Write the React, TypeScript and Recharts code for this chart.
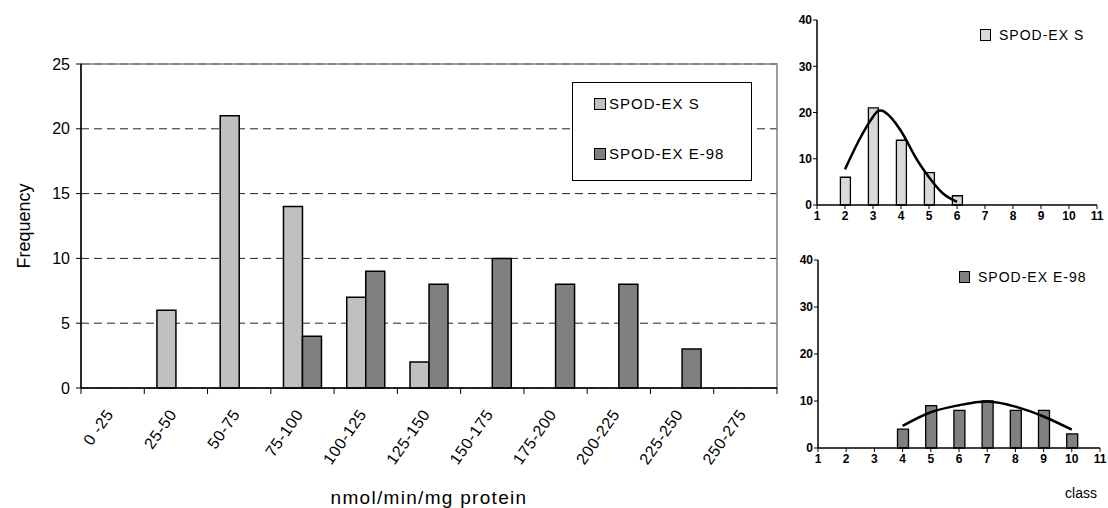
import React from 'react';
import {
  BarChart,
  Bar,
  ComposedChart,
  Line,
  XAxis,
  YAxis,
  CartesianGrid,
  ReferenceArea,
  Legend,
} from 'recharts';

const FONT = 'Arial, "Liberation Sans", sans-serif';

// main histogram
const categories = ['0 -25', '25-50', '50-75', '75-100', '100-125', '125-150', '150-175', '175-200', '200-225', '225-250', '250-275'];
const spodS = [0, 6, 21, 14, 7, 2, 0, 0, 0, 0, 0];
const spodE98 = [0, 0, 0, 4, 9, 8, 10, 8, 8, 3, 0];
const freqTicks = [0, 5, 10, 15, 20, 25];
const classEdges = [0, 1, 2, 3, 4, 5, 6, 7, 8, 9, 10, 11];
const legendOrder = ['s', 'e'];

// small charts (class axis)
const classTicks = [1, 2, 3, 4, 5, 6, 7, 8, 9, 10, 11];
const smallTicks = [0, 10, 20, 30, 40];

const topClasses = [2, 3, 4, 5, 6];
const topCounts = [6, 21, 14, 7, 2];
const topFitX = [2, 2.5, 3, 3.4, 4, 4.5, 5, 5.5, 6];
const topFitY = [7.7, 14, 19.1, 20.2, 16, 10.5, 6, 2.5, 0.7];

const bottomClasses = [4, 5, 6, 7, 8, 9, 10];
const bottomCounts = [4, 9, 8, 10, 8, 8, 3];
const bottomFitX = [4, 5, 6, 7, 8, 9, 10];
const bottomFitY = [4.7, 7.6, 9.1, 9.9, 8.8, 6.7, 3.9];

const mainData = categories.map((range, i) => ({ range, pos: i + 0.5, s: spodS[i], e: spodE98[i] }));
const topData = topClasses.map((cls, i) => ({ cls, n: topCounts[i] }));
const topFit = topFitX.map((cls, i) => ({ cls, fit: topFitY[i] }));
const bottomData = bottomClasses.map((cls, i) => ({ cls, n: bottomCounts[i] }));
const bottomFit = bottomFitX.map((cls, i) => ({ cls, fit: bottomFitY[i] }));

const MainTick = (props: any) => {
  const { x, y, payload } = props;
  return (
    <g transform={`translate(${x - 3},${y + 14})`}>
      <text x={0} y={0} dy="0.35em" textAnchor="end" transform="rotate(-55)" fontSize={16} fill="#000" fontFamily={FONT} letterSpacing={0.6}>
        {payload.value}
      </text>
    </g>
  );
};

const MainLegend = (props: any) => {
  const items = [...(props.payload || [])].sort(
    (a: any, b: any) => legendOrder.indexOf(a.dataKey) - legendOrder.indexOf(b.dataKey)
  );
  return (
    <div style={{ width: 178, height: 97, border: '1px solid #000', background: '#fff', fontFamily: FONT, fontSize: 15, letterSpacing: 1, color: '#000' }}>
      {items.map((it: any, i: number) => (
        <div key={i} style={{ display: 'flex', alignItems: 'center', position: 'absolute', left: 22, top: 13 + i * 50 }}>
          <span style={{ display: 'inline-block', width: 10, height: 10, background: it.color, border: '1px solid #000', marginRight: 3 }} />
          <span>{it.value}</span>
        </div>
      ))}
    </div>
  );
};

const SmallLegend = (props: any) => {
  const items = (props.payload || []).filter((it: any) => it.type !== 'none');
  return (
    <div style={{ fontFamily: FONT, fontSize: 14, letterSpacing: 1, color: '#000' }}>
      {items.map((it: any, i: number) => (
        <div key={i} style={{ display: 'flex', alignItems: 'center' }}>
          <span style={{ display: 'inline-block', width: 9, height: 10, background: it.color, border: '1px solid #000', marginRight: 8 }} />
          <span>{it.value}</span>
        </div>
      ))}
    </div>
  );
};

const smallTick = { fontSize: 12, fontWeight: 700, fill: '#000', fontFamily: FONT };

export default function App() {
  return (
    <div style={{ position: 'absolute', left: 0, top: 0, width: 1108, height: 508, background: '#fff', fontFamily: FONT }}>
      <div style={{ position: 'absolute', left: 0, top: 0 }}>
        <BarChart width={790} height={508} data={mainData} margin={{ top: 64, right: 13, bottom: 0, left: 0 }} barCategoryGap="20%" barGap={0}>
          <CartesianGrid xAxisId="cat" vertical={false} stroke="#222" strokeDasharray="8 5" />
          <ReferenceArea xAxisId="aEdges" x1={0} x2={11} y1={0} y2={25} fill="none" stroke="#808080" strokeWidth={1.5} ifOverflow="extendDomain" />
          <XAxis
            xAxisId="cat"
            dataKey="range"
            height={119}
            interval={0}
            tick={<MainTick />}
            tickLine={false}
            axisLine={false}
            label={{ value: 'nmol/min/mg protein', position: 'insideBottom', offset: 4, fill: '#000', fontSize: 19, letterSpacing: 1.3, fontFamily: FONT }}
          />
          <XAxis
            xAxisId="aEdges"
            type="number"
            dataKey="pos"
            domain={[0, 11]}
            ticks={classEdges}
            height={1}
            tickFormatter={() => ''}
            tickSize={6}
            axisLine={{ stroke: '#000', strokeWidth: 1.5 }}
            tickLine={{ stroke: '#000' }}
          />
          <YAxis
            width={81}
            domain={[0, 25]}
            ticks={freqTicks}
            tick={{ fontSize: 16, fill: '#000', fontFamily: FONT }}
            tickSize={5}
            tickMargin={6}
            axisLine={{ stroke: '#000', strokeWidth: 1.5 }}
            tickLine={{ stroke: '#000' }}
            label={{ value: 'Frequency', angle: -90, position: 'insideLeft', offset: 24, fill: '#000', fontSize: 18, fontFamily: FONT, style: { textAnchor: 'middle' } }}
          />
          <Bar xAxisId="cat" dataKey="s" name="SPOD-EX S" fill="#c0c0c0" stroke="#000" strokeWidth={1.5} isAnimationActive={false} />
          <Bar xAxisId="cat" dataKey="e" name="SPOD-EX E-98" fill="#808080" stroke="#000" strokeWidth={1.5} isAnimationActive={false} />
          <Legend layout="horizontal" verticalAlign="middle" align="center" content={<MainLegend />} wrapperStyle={{ position: 'absolute', left: 572, top: 82, width: 180, height: 99 }} />
        </BarChart>
      </div>

      <div style={{ position: 'absolute', left: 760, top: 0 }}>
        <ComposedChart width={348} height={230} data={topData} margin={{ top: 20, right: 11, bottom: 0, left: 27 }}>
          <XAxis
            type="number"
            dataKey="cls"
            domain={[1, 11]}
            ticks={classTicks}
            height={25}
            tick={smallTick}
            tickSize={4}
            tickMargin={2}
            axisLine={{ stroke: '#000', strokeWidth: 1.5 }}
            tickLine={{ stroke: '#000' }}
          />
          <YAxis
            width={30}
            domain={[0, 40]}
            ticks={smallTicks}
            tick={smallTick}
            tickSize={4}
            tickMargin={1}
            axisLine={{ stroke: '#000', strokeWidth: 1.5 }}
            tickLine={{ stroke: '#000' }}
          />
          <Bar dataKey="n" name="SPOD-EX S" barSize={10} fill="#d9d9d9" stroke="#000" strokeWidth={1.3} isAnimationActive={false} />
          <Line data={topFit} dataKey="fit" type="natural" stroke="#000" strokeWidth={2.5} dot={false} legendType="none" isAnimationActive={false} />
          <Legend layout="horizontal" verticalAlign="middle" align="center" content={<SmallLegend />} wrapperStyle={{ position: 'absolute', left: 220, top: 27 }} />
        </ComposedChart>
      </div>

      <div style={{ position: 'absolute', left: 760, top: 230 }}>
        <ComposedChart width={348} height={278} data={bottomData} margin={{ top: 30, right: 8, bottom: 0, left: 28 }}>
          <XAxis
            type="number"
            dataKey="cls"
            domain={[1, 11]}
            ticks={classTicks}
            height={60}
            tick={smallTick}
            tickSize={4}
            tickMargin={2}
            axisLine={{ stroke: '#000', strokeWidth: 1.5 }}
            tickLine={{ stroke: '#000' }}
            label={{ value: 'class', position: 'insideBottomRight', offset: 10, dx: 7, fontSize: 14, fill: '#000', fontFamily: FONT }}
          />
          <YAxis
            width={30}
            domain={[0, 40]}
            ticks={smallTicks}
            tick={smallTick}
            tickSize={4}
            tickMargin={1}
            axisLine={{ stroke: '#000', strokeWidth: 1.5 }}
            tickLine={{ stroke: '#000' }}
          />
          <Bar dataKey="n" name="SPOD-EX E-98" barSize={11} fill="#808080" stroke="#000" strokeWidth={1.3} isAnimationActive={false} />
          <Line data={bottomFit} dataKey="fit" type="natural" stroke="#000" strokeWidth={2.5} dot={false} legendType="none" isAnimationActive={false} />
          <Legend layout="horizontal" verticalAlign="middle" align="center" content={<SmallLegend />} wrapperStyle={{ position: 'absolute', left: 199, top: 39 }} />
        </ComposedChart>
      </div>
    </div>
  );
}
